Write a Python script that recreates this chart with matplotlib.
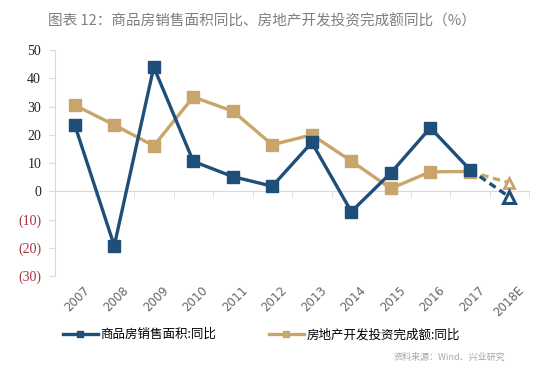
import matplotlib
matplotlib.use("Agg")
import matplotlib.pyplot as plt
from matplotlib.lines import Line2D

plt.rcParams['font.family'] = ['Noto Sans CJK SC', 'DejaVu Sans']

years = ['2007', '2008', '2009', '2010', '2011', '2012', '2013', '2014',
         '2015', '2016', '2017', '2018E']
# 商品房销售面积:同比 (2007-2017 actual, 2018E forecast)
sales_area = [23.5, -19.3, 44.0, 10.6, 5.2, 1.8, 17.3, -7.2, 6.5, 22.5, 7.7]
sales_2018e = -2.0
# 房地产开发投资完成额:同比
invest = [30.5, 23.5, 16.1, 33.4, 28.4, 16.5, 20.0, 10.7, 1.0, 6.9, 7.0]
invest_2018e = 3.0

yticks = [50, 40, 30, 20, 10, 0, -10, -20, -30]

title = '图表 12：商品房销售面积同比、房地产开发投资完成额同比（%）'
labels = ['商品房销售面积:同比', '房地产开发投资完成额:同比']
source = '资料来源：Wind、兴业研究'

blue = '#1f4e79'
gold = '#c9a56b'

fig = plt.figure(figsize=(5.5, 3.74), dpi=100)
ax = fig.add_axes([0.100, 0.262, 0.862, 0.604])

x = list(range(len(sales_area)))
last = len(sales_area) - 1
nxt = len(years) - 1

ax.plot(x, invest, color=gold, lw=2.4, marker='s', ms=8, zorder=3)
ax.plot([last, nxt], [invest[-1], invest_2018e], color=gold, lw=2.4,
        ls=(0, (2.2, 1.4)), zorder=3)
ax.plot([nxt], [invest_2018e], color=gold, marker='^', ms=7, mfc='white',
        mew=2, zorder=4)

ax.plot(x, sales_area, color=blue, lw=2.4, marker='s', ms=8, zorder=5)
ax.plot([last, nxt], [sales_area[-1], sales_2018e], color=blue, lw=2.4,
        ls=(0, (2.2, 1.4)), zorder=5)
ax.plot([nxt], [sales_2018e], color=blue, marker='^', ms=9, mfc='white',
        mew=2.2, zorder=6)

ax.set_xlim(-0.5, len(years) - 0.5)
ax.set_ylim(-30, 50)

for s in ['top', 'right']:
    ax.spines[s].set_visible(False)
ax.spines['left'].set_color('#d9d9d9')
ax.spines['bottom'].set_color('#d9d9d9')
ax.spines['bottom'].set_position(('data', 0))

ax.set_xticks(range(len(years)))
ax.set_xticklabels([])
ax.tick_params(axis='x', which='major', length=0)
ax.set_xticks([i + 0.5 for i in range(len(years))], minor=True)
ax.tick_params(axis='x', which='minor', length=4, color='#d9d9d9')

ax.set_yticks(yticks)
ax.set_yticklabels([f'({abs(v)})' if v < 0 else str(v) for v in yticks],
                   family='Liberation Serif', fontsize=10)
for lab, v in zip(ax.get_yticklabels(), yticks):
    lab.set_color('#a8323a' if v < 0 else '#222222')
ax.tick_params(axis='y', length=4, color='#d9d9d9', pad=6)

trans = ax.get_xaxis_transform()
for i, yr in enumerate(years):
    ax.text(i + 0.2, -0.035, yr, transform=trans, rotation=45, ha='right',
            va='top', rotation_mode='anchor', fontsize=8.5, color='#666666',
            family='DejaVu Sans')

fig.text(0.477, 0.943, title, ha='center', va='center', fontsize=10.5,
         color='#7f7f7f')

handles = [Line2D([], [], color=blue, lw=2.4, marker='s', ms=5),
           Line2D([], [], color=gold, lw=2.4, marker='s', ms=5)]
fig.legend(handles, labels, loc='center', bbox_to_anchor=(0.475, 0.105),
           ncol=2, frameon=False, fontsize=9, handlelength=2.8,
           handletextpad=0.2, columnspacing=4.2)

fig.text(0.918, 0.045, source, ha='right', va='center', fontsize=6.5,
         color='#a6a6a6')

fig.savefig('out.png', dpi=100)
